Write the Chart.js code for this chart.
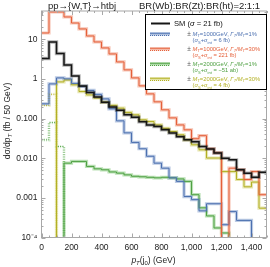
<!DOCTYPE html>
<html>
<head>
<meta charset="utf-8">
<script src="https://cdn.jsdelivr.net/npm/chart.js@4.4.0/dist/chart.umd.min.js"></script>
<style>
  html, body { margin: 0; padding: 0; background: #fff; }
  #wrap { width: 270px; height: 267px; }
</style>
</head>
<body>
<div id="wrap"><canvas id="chart" width="270" height="267"></canvas></div>
<script>
// 50 GeV bins from 0 to 1500 GeV
const binWidth = 50;
const xMax = 1500;

// dsigma/dpT per bin (fb / 50 GeV), 0 = below the plotted range
const sm = [3.28, 8.55, 4.39, 2.25, 1.19, 0.667, 0.457, 0.352, 0.256, 0.197,
  0.161, 0.124, 0.108, 0.0826, 0.069, 0.063, 0.052, 0.043, 0.035, 0.029,
  0.026, 0.0197, 0.017, 0.0135, 0.010, 0.0091, 0.0051, 0.0042, 0.0033, 0.0044];
const m1000w1 = [0.235, 0.748, 1.06, 1.0, 0.77, 0.647, 0.513, 0.407, 0.313, 0.176,
  0.0875, 0.0436, 0.025, 0.0173, 0.0112, 0.0075, 0.0056, 0.0032, 0.0026, 0.00108,
  0.0009, 0.00047, 0.00071, 0.00071, 0.00021, 0.00045, 0.00027, 0.00027, 0, 0];
const m1000w30 = [14.4, 48.7, 48.7, 36.5, 25.7, 18.2, 12.1, 8.55, 6.04, 4.26,
  2.68, 1.69, 1.06, 0.667, 0.419, 0.264, 0.166, 0.104, 0.069, 0.052,
  0.031, 0.037, 0.0173, 0.0137, 0, 0.0056, 0.0051, 0.0029, 0.0046, 0.0012];
const m2000w1 = [0, 0, 0, 0.0075, 0.0083, 0.0083, 0.0062, 0.0054, 0.0051, 0.0045,
  0.0042, 0.0038, 0.0035, 0.0034, 0.0033, 0.0032, 0.0033, 0.0032, 0.0030, 0.0026,
  0.0012, 0.00056, 0.00035, 0.000174, 0.00013, 0, 0, 0, 0, 0];
const m2000w1Neg = [0.029, 0.079, 0.0197];   // dotted (negative) part
const m2000w30 = [0, 0, 0.84, 0.94, 0.71, 0.48, 0.395, 0.33, 0.26, 0.215,
  0.183, 0.143, 0.124, 0.093, 0.084, 0.069, 0.057, 0.047, 0.039, 0.029,
  0.0218, 0.0163, 0.0101, 0.0101, 0.0046, 0.0046, 0.0029, 0.0019, 0.0025, 0.00055];
const m2000w30Neg = [0.215, 0.41];           // dotted (negative) part

const xTicks = [0, 200, 400, 600, 800, 1000, 1200, 1400];
const yTicks = [1e-4, 1e-3, 1e-2, 1e-1, 1, 10];
const yTickLabels = ['10\u207B\u2074', '0.001', '0.010', '0.100', '1', '10'];

const FONT = '"Liberation Sans", Arial, sans-serif';

// histogram -> step points at the bin left edges (+ closing point)
function steps(vals) {
  const pts = vals.map((v, i) => ({ x: i * binWidth, y: v > 0 ? v : 1e-7 }));
  const end = vals.length * binWidth;
  const last = end >= xMax ? vals[vals.length - 1] : 0;
  pts.push({ x: end, y: last > 0 ? last : 1e-7 });
  return pts;
}

const series = [
  { vals: m1000w30, line: '#E5603A', band: 'rgba(238,140,110,0.5)' },
  { vals: m1000w1, line: '#4C70B0', band: 'rgba(120,150,200,0.5)' },
  { vals: m2000w30, line: '#B3B024', band: 'rgba(208,206,100,0.5)' },
  { vals: m2000w1, line: '#4FA043', band: 'rgba(120,195,110,0.5)' },
  { vals: m2000w1Neg, line: '#4FA043', band: 'rgba(120,195,110,0.35)', dash: [1, 1.3] },
  { vals: m2000w30Neg, line: '#B3B024', band: 'rgba(208,206,100,0.35)', dash: [1, 1.3] },
];

const datasets = [];
series.forEach(s => {
  datasets.push({ data: steps(s.vals), borderColor: s.band, borderWidth: 3.2,
    borderDash: s.dash || [], stepped: 'before', order: 10 });
  datasets.push({ data: steps(s.vals), borderColor: s.line, borderWidth: 1,
    borderDash: s.dash || [], stepped: 'before', order: 5 });
});
datasets.push({ data: steps(sm), borderColor: 'rgba(0,0,0,0.3)', borderWidth: 3.4, stepped: 'before', order: 2 });
datasets.push({ data: steps(sm), borderColor: '#151515', borderWidth: 1.5, stepped: 'before', order: 1 });

function fontFor(p, size) {
  const sz = (p.sub || p.sup) ? size * 0.7 : size;
  return (p.i ? 'italic ' : '') + sz + 'px ' + FONT;
}
function drawRich(ctx, parts, x, y, size, color, align) {
  let w = 0;
  parts.forEach(p => { ctx.font = fontFor(p, size); w += ctx.measureText(p.t).width; });
  let cx = align === 'center' ? x - w / 2 : (align === 'right' ? x - w : x);
  ctx.fillStyle = color;
  ctx.textAlign = 'left';
  ctx.textBaseline = 'middle';
  parts.forEach(p => {
    ctx.font = fontFor(p, size);
    const dy = p.sub ? size * 0.3 : (p.sup ? -size * 0.35 : 0);
    ctx.fillText(p.t, cx, y + dy);
    cx += ctx.measureText(p.t).width;
  });
}

const legendItems = [
  { color: '#4C70B0', band: 'rgba(120,150,200,0.6)', m: '1000', w: '1%', s: ' = 6 fb)' },
  { color: '#E5603A', band: 'rgba(238,140,110,0.6)', m: '1000', w: '30%', s: ' = 221 fb)' },
  { color: '#4FA043', band: 'rgba(120,195,110,0.6)', m: '2000', w: '1%', s: ' = \u221251 ab)' },
  { color: '#B3B024', band: 'rgba(208,206,100,0.6)', m: '2000', w: '30%', s: ' = 4 fb)' },
];

const decorPlugin = {
  id: 'decor',
  afterDatasetsDraw(chart) {
    const ctx = chart.ctx;
    const a = chart.chartArea;
    const xs = chart.scales.x, ys = chart.scales.y;
    ctx.save();
    ctx.strokeStyle = '#a8a8a8';
    ctx.lineWidth = 1;
    ctx.strokeRect(a.left, a.top, a.right - a.left, a.bottom - a.top);
    ctx.beginPath();
    for (let v = 0; v <= xMax; v += 50) {
      const px = Math.round(xs.getPixelForValue(v)) + 0.5;
      const len = v % 200 === 0 ? 4 : 2;
      ctx.moveTo(px, a.bottom); ctx.lineTo(px, a.bottom - len);
      ctx.moveTo(px, a.top); ctx.lineTo(px, a.top + len);
    }
    for (let e = -4; e <= 1; e++) {
      for (let k = 1; k <= 9; k++) {
        const v = k * Math.pow(10, e);
        if (v > ys.max) continue;
        const py = Math.round(ys.getPixelForValue(v)) + 0.5;
        const len = k === 1 ? 4 : 2;
        ctx.moveTo(a.left, py); ctx.lineTo(a.left + len, py);
        ctx.moveTo(a.right, py); ctx.lineTo(a.right - len, py);
      }
    }
    ctx.stroke();
    ctx.restore();
  },
  afterDraw(chart) {
    const ctx = chart.ctx;
    ctx.save();
    // titles
    drawRich(ctx, [{ t: 'pp\u2192{W,T}\u2192htbj' }], 82, 6.5, 9.5, '#222', 'center');
    drawRich(ctx, [{ t: 'BR(Wb):BR(Zt):BR(ht)=2:1:1' }], 199.5, 6.5, 9.5, '#222', 'center');
    // axis titles
    drawRich(ctx, [{ t: 'p', i: true }, { t: 'T', sub: true, i: true }, { t: '(j' }, { t: '0', sub: true },
      { t: ') (GeV)' }], 153.5, 261, 8.5, '#222', 'center');
    ctx.save();
    ctx.translate(8, 121);
    ctx.rotate(-Math.PI / 2);
    drawRich(ctx, [{ t: 'd\u03C3/dp' }, { t: 'T', sub: true, i: true }, { t: ' (fb / 50 GeV)' }], 0, 0, 8.5, '#222', 'center');
    ctx.restore();

    // legend box
    ctx.fillStyle = '#fff';
    ctx.fillRect(145.5, 14.5, 121, 75);
    ctx.strokeStyle = '#000';
    ctx.lineWidth = 1;
    ctx.strokeRect(145.5, 14.5, 121, 75);
    ctx.strokeStyle = 'rgba(0,0,0,0.3)';
    ctx.lineWidth = 3;
    ctx.beginPath(); ctx.moveTo(151, 23.5); ctx.lineTo(170, 23.5); ctx.stroke();
    ctx.strokeStyle = '#151515';
    ctx.lineWidth = 1.5;
    ctx.beginPath(); ctx.moveTo(151, 23.5); ctx.lineTo(170, 23.5); ctx.stroke();
    drawRich(ctx, [{ t: 'SM (' }, { t: '\u03C3', i: true }, { t: ' = 21 fb)' }], 174, 23.5, 7.6, '#111', 'left');

    legendItems.forEach((it, i) => {
      const y1 = 34 + i * 15, y2 = y1 + 6.7;
      ctx.strokeStyle = it.band;
      ctx.lineWidth = 3;
      ctx.setLineDash([]);
      ctx.beginPath(); ctx.moveTo(150, y1); ctx.lineTo(170, y1); ctx.stroke();
      ctx.strokeStyle = it.color;
      ctx.lineWidth = 1;
      ctx.beginPath(); ctx.moveTo(150, y1 - 0.8); ctx.lineTo(170, y1 - 0.8); ctx.stroke();
      ctx.setLineDash([1, 1]);
      ctx.beginPath(); ctx.moveTo(150, y1 + 1.5); ctx.lineTo(170, y1 + 1.5); ctx.stroke();
      ctx.setLineDash([]);
      drawRich(ctx, [{ t: '\u00B1' }], 189, y1, 6.5, '#555', 'center');
      drawRich(ctx, [{ t: 'M', i: true }, { t: 'T', sub: true, i: true }, { t: '=' + it.m + 'GeV, ' },
        { t: '\u0393', i: true }, { t: 'T', sub: true, i: true }, { t: '/' }, { t: 'M', i: true },
        { t: 'T', sub: true, i: true }, { t: '=' + it.w }], 192.5, y1, 5.8, it.color, 'left');
      drawRich(ctx, [{ t: '(' }, { t: '\u03C3', i: true }, { t: 'S', sub: true }, { t: '+' },
        { t: '\u03C3', i: true }, { t: 'int', sub: true }, { t: it.s }], 192.5, y2, 5.8, it.color, 'left');
    });
    ctx.restore();
  }
};

new Chart(document.getElementById('chart'), {
  type: 'line',
  data: { datasets: datasets },
  options: {
    responsive: false,
    animation: false,
    events: [],
    layout: { padding: { left: 0, right: 3.5, top: 11, bottom: 0 } },
    elements: { point: { radius: 0 }, line: { tension: 0 } },
    plugins: { legend: { display: false }, tooltip: { enabled: false } },
    scales: {
      x: {
        type: 'linear', min: 0, max: xMax,
        grid: { display: false, drawTicks: false },
        border: { display: false },
        afterBuildTicks: s => { s.ticks = xTicks.map(v => ({ value: v })); },
        afterFit: s => { s.height = 29.5; },
        ticks: { autoSkip: false, maxRotation: 0, padding: 5, color: '#222',
          font: { family: FONT, size: 8.5 } }
      },
      y: {
        type: 'logarithmic', min: 1e-4, max: 51.6,
        grid: { display: false, drawTicks: false },
        border: { display: false },
        afterBuildTicks: s => { s.ticks = yTicks.map(v => ({ value: v })); },
        afterFit: s => { s.width = 41.5; },
        ticks: { autoSkip: false, padding: 4, color: '#222',
          font: { family: FONT, size: 8.5 },
          callback: (v, i) => yTickLabels[i] }
      }
    }
  },
  plugins: [decorPlugin]
});
</script>
</body>
</html>
